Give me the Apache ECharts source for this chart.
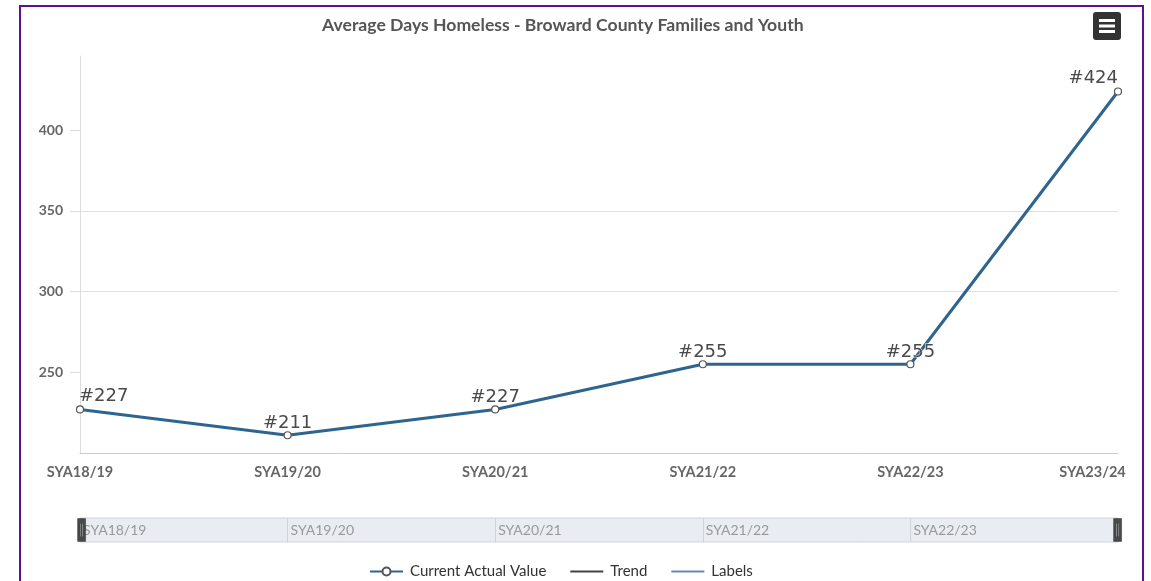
<!DOCTYPE html>
<html>
<head>
<meta charset="utf-8">
<script src="https://cdn.jsdelivr.net/npm/echarts@6/dist/echarts.min.js"></script>
<style>
html,body{margin:0;padding:0;background:#fff;}
#chart{position:absolute;left:0;top:0;width:1151px;height:581px;}
#frame{position:absolute;left:19px;top:5px;width:1125px;height:620px;border:2px solid #5f0f8f;box-sizing:border-box;pointer-events:none;}
</style>
</head>
<body>
<div id="chart"></div>
<div id="frame"></div>
<script>
const categories = ['SYA18/19','SYA19/20','SYA20/21','SYA21/22','SYA22/23','SYA23/24'];
const actualValues = [227, 211, 227, 255, 255, 424];
const yTickValues = [250, 300, 350, 400];
const chartTitle = 'Average Days Homeless - Broward County Families and Youth';
const legendNames = ['Current Actual Value', 'Trend', 'Labels'];

const FONT = 'Lato';
const lastIdx = actualValues.length - 1;
const seriesData = actualValues.map((v, i) => {
  const item = { value: v };
  if (i === 0) item.label = { align: 'left', offset: [-1, 0] };
  if (i === lastIdx) item.label = { align: 'right', offset: [0, 0] };
  return item;
});
const axisCats = categories.map((c, i) => i === categories.length - 1
  ? { value: c, textStyle: { align: 'center', padding: [0, 51, 0, 0] } }
  : c);

const lineIcon = 'path://M0,0 H33 V2 H0 Z';

const chart = echarts.init(document.getElementById('chart'), null, { renderer: 'canvas' });
chart.setOption({
  animation: false,
  backgroundColor: '#fff',
  title: {
    text: chartTitle,
    left: 322, top: 16, padding: 0,
    textStyle: { fontFamily: FONT, fontSize: 17.6, fontWeight: 'bold', color: '#555' }
  },
  toolbox: {
    right: 30, top: 12, padding: 0, itemSize: 28,
    feature: {
      myMenu: {
        show: true, title: '',
        icon: 'path://M3,0 H25 Q28,0 28,3 V25 Q28,28 25,28 H3 Q0,28 0,25 V3 Q0,0 3,0 Z M6,7 V10 H22 V7 Z M6,12.5 V15.5 H22 V12.5 Z M6,18 V21 H22 V18 Z',
        onclick: function () {}
      }
    },
    iconStyle: { color: '#333', borderWidth: 0 },
    emphasis: { iconStyle: { color: '#333', borderWidth: 0 } }
  },
  legend: {
    data: [
      { name: legendNames[0] },
      { name: legendNames[1], icon: lineIcon },
      { name: legendNames[2], icon: lineIcon }
    ],
    left: 364, top: 559,
    itemWidth: 33, itemHeight: 10, itemGap: 24,
    textStyle: { fontFamily: FONT, fontSize: 15, color: '#333', padding: [0, 0, 0, 2] }
  },
  grid: [
    { left: 80, right: 33, top: 56, bottom: 128, containLabel: false },
    { left: 80, right: 33, top: 518, height: 24, show: true, backgroundColor: '#e9edf3', borderColor: '#cfd4da', borderWidth: 1 }
  ],
  xAxis: [
    {
      type: 'category', gridIndex: 0, data: axisCats, boundaryGap: false,
      axisLine: { show: true, lineStyle: { color: '#ccc', width: 1 } },
      axisTick: { show: false },
      axisLabel: { margin: 12, fontFamily: FONT, fontSize: 14.5, fontWeight: 'bold', color: '#666' },
      splitLine: { show: false }
    },
    {
      type: 'category', gridIndex: 1, data: categories, boundaryGap: false,
      axisLine: { show: false }, axisTick: { show: false },
      axisLabel: { inside: true, margin: 12, verticalAlign: 'middle', align: 'left', padding: [0, 0, 0, 3],
        showMaxLabel: false, fontFamily: FONT, fontSize: 14, color: '#999' },
      splitLine: { show: true, lineStyle: { color: '#cfd4da', width: 1 } }
    }
  ],
  yAxis: [
    {
      type: 'value', gridIndex: 0, min: 200, max: 446, interval: 50,
      axisLine: { show: true, lineStyle: { color: '#ddd', width: 1 } },
      axisTick: { show: true, length: 10, lineStyle: { color: '#ddd' }, customValues: yTickValues },
      axisLabel: { customValues: yTickValues, margin: 17, fontFamily: FONT, fontSize: 14, fontWeight: 'bold', color: '#666' },
      splitLine: { show: true, showMinLine: false, showMaxLine: false, lineStyle: { color: '#e0e0e0', width: 1 } }
    },
    { type: 'value', gridIndex: 1, show: false, min: 0, max: 1 }
  ],
  dataZoom: [{
    type: 'slider', xAxisIndex: [0],
    left: 80, right: 33, top: 518, height: 24,
    start: 0, end: 100,
    backgroundColor: 'rgba(0,0,0,0)', fillerColor: 'rgba(0,0,0,0)', borderColor: 'rgba(0,0,0,0)',
    showDetail: false, showDataShadow: false, brushSelect: false, moveHandleSize: 0,
    handleIcon: 'path://M0,0 H7 V20 H0 Z M2.2,4 V16 H3 V4 Z M4,4 V16 H4.8 V4 Z',
    handleSize: '95%',
    handleStyle: { color: '#4a4a4a', borderColor: '#333', borderWidth: 0.5 },
    emphasis: { handleStyle: { color: '#4a4a4a' } },
    dataBackground: { lineStyle: { opacity: 0 }, areaStyle: { opacity: 0 } }
  }],
  series: [
    {
      name: legendNames[0], type: 'line', xAxisIndex: 0, yAxisIndex: 0,
      data: seriesData,
      color: '#2e6590',
      lineStyle: { width: 3, color: '#2e6590' },
      symbol: 'circle', symbolSize: 7, showAllSymbol: true,
      itemStyle: { color: '#fff', borderColor: '#555', borderWidth: 1.2 },
      label: {
        show: true, position: 'top', distance: 0, offset: [0, 1],
        formatter: p => '#' + p.value,
        fontFamily: 'DejaVu Sans', fontSize: 18, color: '#4a4a4a',
        textBorderColor: '#fff', textBorderWidth: 1
      },
      z: 3
    },
    {
      name: legendNames[1], type: 'line', xAxisIndex: 0, yAxisIndex: 0,
      data: [], symbol: 'none', color: '#444', lineStyle: { width: 2, color: '#444' }
    },
    {
      name: legendNames[2], type: 'line', xAxisIndex: 0, yAxisIndex: 0,
      data: [], symbol: 'none', color: '#6d87ab', lineStyle: { width: 2, color: '#6d87ab' }
    }
  ]
});
</script>
</body>
</html>
